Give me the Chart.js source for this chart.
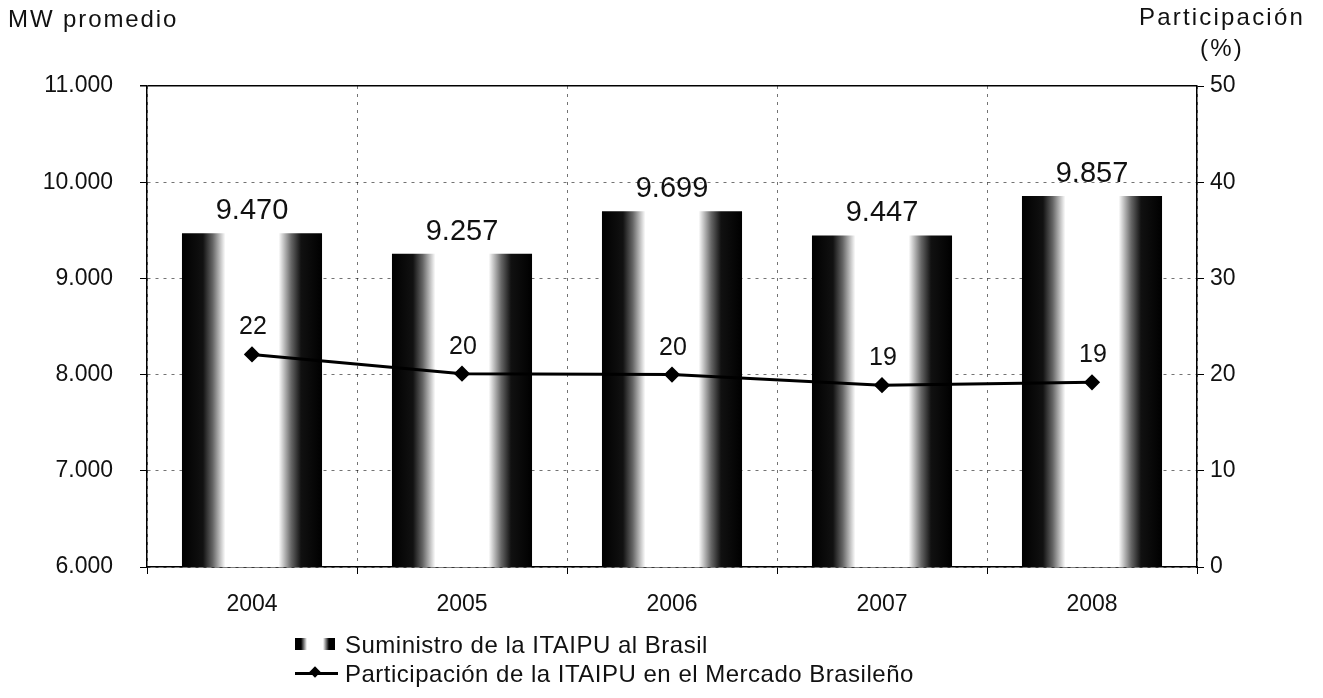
<!DOCTYPE html>
<html>
<head>
<meta charset="utf-8">
<script src="https://cdn.jsdelivr.net/npm/chart.js@4"></script>
<style>
  body { margin: 0; background: #fff; }
  #wrap { position: relative; width: 1323px; height: 698px; font-family: "Liberation Sans", Arial, sans-serif; color: #111; }
  #chart { position: absolute; left: 0; top: 0; }
  .ttl { position: absolute; font-size: 24px; letter-spacing: 1.9px; line-height: 31px; }
  .leg { position: absolute; left: 295px; font-size: 24px; letter-spacing: 0.5px; line-height: 29px; white-space: nowrap; }
  .leg span.txt { position: absolute; left: 50px; top: 0; }
  .barIcon { position: absolute; left: 0; top: 8px; width: 40px; height: 12px;
    background: linear-gradient(to right, #000 0, #000 15%, #fff 30%, #fff 70%, #000 85%, #000 100%); }
  .lineIcon { position: absolute; left: 0; top: 13px; width: 43px; height: 3px; background: #000; }
  .lineIcon i { position: absolute; left: 16px; top: -4px; width: 8px; height: 8px; background: #000; transform: rotate(45deg); }
</style>
</head>
<body>
<div id="wrap">
  <canvas id="chart" width="1323" height="698"></canvas>
  <div class="ttl" style="left:8px; top:3px;">MW promedio</div>
  <div class="ttl" style="left:1132px; top:1px; text-align:center; width:180px; letter-spacing:2.2px;">Participación<br>(%)</div>
  <div class="leg" style="top:630px;"><div class="barIcon"></div><span class="txt">Suministro de la ITAIPU al Brasil</span></div>
  <div class="leg" style="top:659px;"><div class="lineIcon"><i></i></div><span class="txt">Participación de la ITAIPU en el Mercado Brasileño</span></div>
</div>
<script>
var years = ['2004', '2005', '2006', '2007', '2008'];
var suministro = [9470, 9257, 9699, 9447, 9857];
var participacion = [22.1, 20.1, 20.0, 18.9, 19.2];
var participacionLabels = ['22', '20', '20', '19', '19'];

function miles(n) {
    return String(n).replace(/\B(?=(\d{3})+(?!\d))/g, '.');
}

function barFill(context) {
    var chart = context.chart;
    var area = chart.chartArea;
    if (!area) return '#000';
    var cx = chart.scales.x.getPixelForValue(context.dataIndex);
    var w = (area.right - area.left) / years.length * 0.667;
    var g = chart.ctx.createLinearGradient(cx - w / 2, 0, cx + w / 2, 0);
    g.addColorStop(0, '#000');
    g.addColorStop(0.15, '#111');
    g.addColorStop(0.22, '#666');
    g.addColorStop(0.31, '#fff');
    g.addColorStop(0.69, '#fff');
    g.addColorStop(0.78, '#666');
    g.addColorStop(0.85, '#111');
    g.addColorStop(1, '#000');
    return g;
}

var valueLabels = {
    id: 'valueLabels',
    afterDatasetsDraw: function(chart) {
        var ctx = chart.ctx;
        ctx.save();
        ctx.fillStyle = '#111';
        ctx.textAlign = 'center';
        ctx.textBaseline = 'alphabetic';

        var bars = chart.getDatasetMeta(1);
        ctx.font = '29px "Liberation Sans", Arial, sans-serif';
        bars.data.forEach(function(el, i) {
            ctx.fillText(miles(suministro[i]), el.x, el.y - 14);
        });

        var pts = chart.getDatasetMeta(0);
        ctx.font = '25px "Liberation Sans", Arial, sans-serif';
        pts.data.forEach(function(el, i) {
            ctx.fillText(participacionLabels[i], el.x + 1, el.y - 20);
        });
        ctx.restore();
    }
};

var tickFont = { family: '"Liberation Sans", Arial, sans-serif', size: 23 };

new Chart(document.getElementById('chart'), {
    type: 'bar',
    data: {
        labels: years,
        datasets: [{
            type: 'line',
            label: 'Participación de la ITAIPU en el Mercado Brasileño',
            data: participacion,
            yAxisID: 'y1',
            borderColor: '#000',
            borderWidth: 3,
            pointStyle: 'rectRot',
            pointRadius: 6,
            pointBackgroundColor: '#000',
            pointBorderColor: '#000',
            tension: 0,
            order: 0
        }, {
            label: 'Suministro de la ITAIPU al Brasil',
            data: suministro,
            yAxisID: 'y',
            backgroundColor: barFill,
            borderWidth: 0,
            categoryPercentage: 1,
            barPercentage: 0.667,
            order: 1
        }]
    },
    options: {
        responsive: false,
        animation: false,
        devicePixelRatio: 1,
        layout: { padding: { top: 86, left: 0, right: 0, bottom: 0 } },
        plugins: {
            legend: { display: false },
            tooltip: { enabled: false }
        },
        scales: {
            x: {
                afterFit: function(scale) { scale.height = 131; },
                grid: {
                    offset: true,
                    color: 'rgba(0,0,0,0.55)',
                    tickColor: '#000',
                    tickLength: 7
                },
                border: { color: '#000', width: 1.5, dash: [3, 5] },
                ticks: { color: '#111', font: tickFont, padding: 17 }
            },
            y: {
                position: 'left',
                min: 6000,
                max: 11000,
                afterFit: function(scale) { scale.width = 147; },
                grid: {
                    color: function(c) { return c.tick && c.tick.value === 11000 ? '#000' : 'rgba(0,0,0,0.55)'; },
                    lineWidth: function(c) { return c.tick && c.tick.value === 11000 ? 1.5 : 1; },
                    tickColor: '#000',
                    tickLength: 7
                },
                border: {
                    color: '#000',
                    width: 1.5,
                    dash: function(c) { return c.tick && c.tick.value === 11000 ? [] : [3, 5]; }
                },
                ticks: {
                    stepSize: 1000,
                    color: '#111',
                    font: tickFont,
                    padding: 27,
                    callback: function(v) { return miles(v); }
                }
            },
            y1: {
                position: 'right',
                min: 0,
                max: 50,
                afterFit: function(scale) { scale.width = 126; },
                grid: { drawOnChartArea: false, tickColor: '#000', tickLength: 7 },
                border: { color: '#000', width: 1.5 },
                ticks: { stepSize: 10, color: '#111', font: tickFont, padding: 6 }
            }
        }
    },
    plugins: [valueLabels]
});
</script>
</body>
</html>
